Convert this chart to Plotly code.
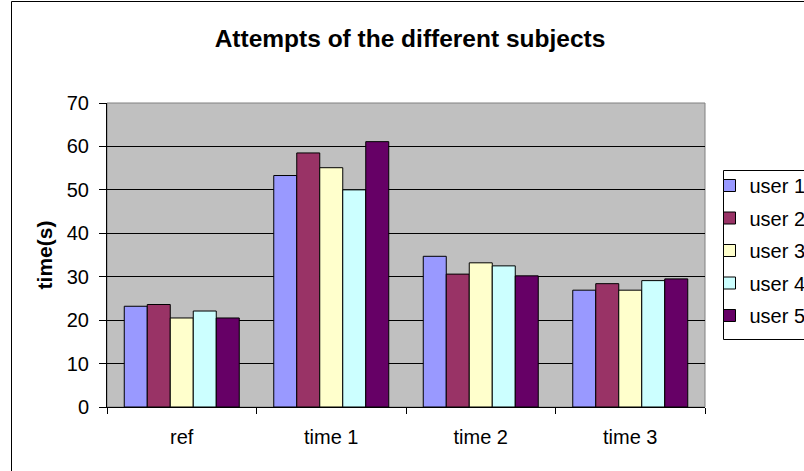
import plotly.graph_objects as go

categories = ["ref", "time 1", "time 2", "time 3"]
series_names = ["user 1", "user 2", "user 3", "user 4", "user 5"]
user1 = [23.2, 53.3, 34.7, 26.9]
user2 = [23.6, 58.5, 30.6, 28.4]
user3 = [20.5, 55.1, 33.2, 26.9]
user4 = [22.1, 50.0, 32.5, 29.1]
user5 = [20.5, 61.1, 30.2, 29.5]
colors = ["#9999FF", "#993366", "#FFFFCC", "#CCFFFF", "#660066"]
y_ticks = [0, 10, 20, 30, 40, 50, 60, 70]

FONT = "Arial, Liberation Sans, sans-serif"
series = [user1, user2, user3, user4, user5]

fig = go.Figure()
for i, (name, vals) in enumerate(zip(series_names, series)):
    fig.add_trace(go.Bar(
        x=categories, y=vals, name=name,
        legendgroup=name,
        marker=dict(color=colors[i], line=dict(color="black", width=1)),
    ))

W, H = 804, 471
ml, mr, mt, mb = 107, 99, 103, 64
pw, ph = W - ml - mr, H - mt - mb

def px_x(p):
    return (p - ml) / pw

def px_y(p):
    return (H - mb - p) / ph

fig.update_layout(
    width=W, height=H,
    margin=dict(l=ml, r=mr, t=mt, b=mb, pad=0, autoexpand=False),
    paper_bgcolor="white",
    plot_bgcolor="#C0C0C0",
    barmode="group",
    bargap=1.5 / 6.5,
    bargroupgap=0,
    font=dict(family=FONT, size=20, color="black"),
    showlegend=True,
    legend=dict(
        x=px_x(709.5), y=px_y(166), xanchor="left", yanchor="top",
        borderwidth=0, bgcolor="rgba(0,0,0,0)",
        font=dict(family=FONT, size=20, color="black"),
        tracegroupgap=3.5,
        itemwidth=30,
    ),
    title=dict(
        text="<b>Attempts of the different subjects</b>",
        x=px_x(410), xref="paper", xanchor="center",
        y=1 - 38 / H, yanchor="middle",
        font=dict(family=FONT, size=24.5, color="black"),
    ),
    xaxis=dict(
        type="category",
        showline=True, linecolor="black", linewidth=1,
        ticks="outside", ticklen=6, tickcolor="black",
        tickson="boundaries",
        showgrid=False,
        tickfont=dict(family=FONT, size=20, color="black"),
        ticklabelstandoff=12,
    ),
    yaxis=dict(
        range=[0, 70],
        tickvals=y_ticks,
        showline=True, linecolor="black", linewidth=1,
        ticks="outside", ticklen=7, tickcolor="black",
        showgrid=True, gridcolor="black", gridwidth=1,
        zeroline=False,
        tickfont=dict(family=FONT, size=20, color="black"),
        ticklabelstandoff=6,
        title=dict(text="<b>time(s)</b>", font=dict(family=FONT, size=21, color="black"), standoff=8),
    ),
    shapes=[
        dict(type="rect", xref="paper", yref="paper",
             x0=0, x1=1, y0=0, y1=1,
             line=dict(color="#808080", width=1), layer="below"),
        dict(type="rect", xref="paper", yref="paper",
             x0=px_x(723.5), x1=px_x(W + 20), y0=px_y(339.5), y1=px_y(170.5),
             line=dict(color="black", width=1), fillcolor="white", layer="below"),
        dict(type="rect", xref="paper", yref="paper",
             x0=px_x(11.5), x1=px_x(W + 20), y0=px_y(H + 20), y1=px_y(1.5),
             line=dict(color="black", width=1), fillcolor="rgba(0,0,0,0)", layer="above"),
    ],
)

fig.write_html(
    "out.html",
    config={"displayModeBar": False},
    post_script="document.body.style.margin='0';document.body.style.padding='0';",
)
